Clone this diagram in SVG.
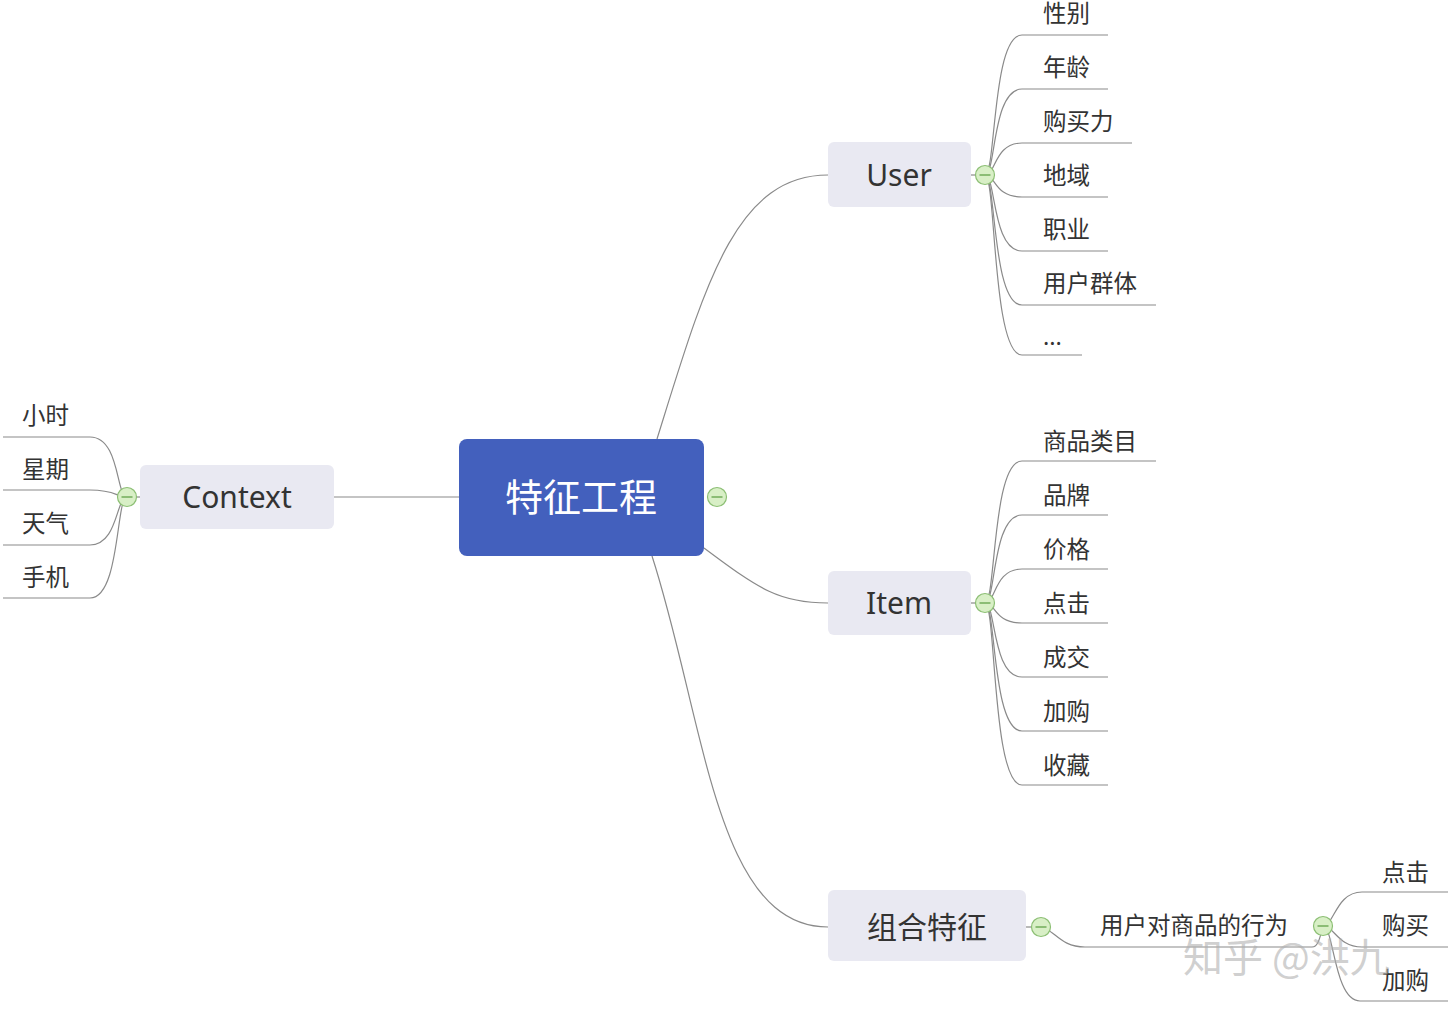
<svg xmlns="http://www.w3.org/2000/svg" width="1448" height="1016" viewBox="0 0 1448 1016">
<style>
.bg{fill:#ffffff}
.c{fill:none;stroke:#8a8a8a;stroke-width:1.2}
.node{fill:#e9e9f2}
.t{font-family:"Noto Sans","Noto Sans CJK SC",sans-serif;fill:#333333}
.big{font-size:30px}
.leaf{font-size:23.5px}
.col{fill:#d8efc6;stroke:#8cbf74;stroke-width:1.2}
.minus{stroke:#6aa852;stroke-width:1.4}
</style>
<defs>
<g id="collapse"><circle class="col" r="9.5" cx="0" cy="0"/><line class="minus" x1="-5.5" y1="0" x2="5.5" y2="0"/></g>
</defs>
<rect class="bg" x="0" y="0" width="1448" height="1016"/>
<g id="connectors">
<path class="c" d="M334,497 L459,497"/>
<path class="c" d="M657,439 C705,285 735,175 828,175"/>
<path class="c" d="M704,548 C760,590 780,603 828,603"/>
<path class="c" d="M652,556 C705,720 715,927 828,927"/>
<path class="c" d="M971,175 L976,175"/>
<path class="c" d="M971,603 L976,603"/>
<path class="c" d="M136,497 L140,497"/>
<path class="c" d="M1026,927 L1032,927"/>
<!-- User leaves -->
<path class="c" d="M985,175 C996,175 992,35 1022,35 L1108,35"/>
<path class="c" d="M985,175 C996,175 992,89 1022,89 L1108,89"/>
<path class="c" d="M985,175 C996,175 994,143 1022,143 L1132,143"/>
<path class="c" d="M985,175 C996,175 994,197 1022,197 L1108,197"/>
<path class="c" d="M985,175 C996,175 992,251 1022,251 L1108,251"/>
<path class="c" d="M985,175 C996,175 992,305 1022,305 L1156,305"/>
<path class="c" d="M985,175 C996,175 992,355 1022,355 L1082,355"/>
<!-- Item leaves -->
<path class="c" d="M985,603 C996,603 992,461 1022,461 L1156,461"/>
<path class="c" d="M985,603 C996,603 992,515 1022,515 L1108,515"/>
<path class="c" d="M985,603 C996,603 994,569 1022,569 L1108,569"/>
<path class="c" d="M985,603 C996,603 994,623 1022,623 L1108,623"/>
<path class="c" d="M985,603 C996,603 992,677 1022,677 L1108,677"/>
<path class="c" d="M985,603 C996,603 992,731 1022,731 L1108,731"/>
<path class="c" d="M985,603 C996,603 992,785 1022,785 L1108,785"/>
<!-- Context leaves -->
<path class="c" d="M127,497 C116,497 120,437 90,437 L3,437"/>
<path class="c" d="M127,497 C116,497 116,490 90,490 L3,490"/>
<path class="c" d="M127,497 C116,497 118,545 90,545 L3,545"/>
<path class="c" d="M127,497 C116,497 120,598 90,598 L3,598"/>
<!-- 组合特征 -->
<path class="c" d="M1041,927 C1055,930 1060,947 1085,947 L1312,947 C1318,947 1320,938 1323,926"/>
<path class="c" d="M1323,926 C1334,926 1336,892 1362,892 L1448,892"/>
<path class="c" d="M1323,926 C1334,926 1338,947 1362,947 L1448,947"/>
<path class="c" d="M1323,926 C1334,926 1334,1001 1360,1001 L1448,1001"/>
</g>
<g id="center">
<rect x="459" y="439" width="245" height="117" rx="8" fill="#4360bd"/>
<text x="581" y="511" text-anchor="middle" font-family="Noto Sans CJK SC,sans-serif" font-size="38" fill="#ffffff">特征工程</text>
<use href="#collapse" x="717" y="497"/>
</g>
<g id="user">
<rect class="node" x="828" y="142" width="143" height="65" rx="6"/>
<text class="t big" x="899" y="186" text-anchor="middle">User</text>
<use href="#collapse" x="985" y="175"/>
</g>
<g id="item">
<rect class="node" x="828" y="571" width="143" height="64" rx="6"/>
<text class="t big" x="899" y="614" text-anchor="middle">Item</text>
<use href="#collapse" x="985" y="603"/>
</g>
<g id="context">
<rect class="node" x="140" y="465" width="194" height="64" rx="6"/>
<text class="t big" x="237" y="508" text-anchor="middle">Context</text>
<use href="#collapse" x="127" y="497"/>
</g>
<g id="combo">
<rect class="node" x="828" y="890" width="198" height="71" rx="6"/>
<text class="t big" x="927" y="938" text-anchor="middle">组合特征</text>
<use href="#collapse" x="1041" y="927"/>
</g>
<g id="user-leaves">
<text class="t leaf" x="1043" y="22">性别</text>
<text class="t leaf" x="1043" y="76">年龄</text>
<text class="t leaf" x="1043" y="130">购买力</text>
<text class="t leaf" x="1043" y="184">地域</text>
<text class="t leaf" x="1043" y="238">职业</text>
<text class="t leaf" x="1043" y="292">用户群体</text>
<text class="t leaf" x="1043" y="345">...</text>
</g>
<g id="item-leaves">
<text class="t leaf" x="1043" y="450">商品类目</text>
<text class="t leaf" x="1043" y="504">品牌</text>
<text class="t leaf" x="1043" y="558">价格</text>
<text class="t leaf" x="1043" y="612">点击</text>
<text class="t leaf" x="1043" y="666">成交</text>
<text class="t leaf" x="1043" y="720">加购</text>
<text class="t leaf" x="1043" y="774">收藏</text>
</g>
<g id="context-leaves">
<text class="t leaf" x="22" y="424">小时</text>
<text class="t leaf" x="22" y="478">星期</text>
<text class="t leaf" x="22" y="532">天气</text>
<text class="t leaf" x="22" y="586">手机</text>
</g>
<g id="behavior">
<text class="t leaf" x="1100" y="934">用户对商品的行为</text>
<use href="#collapse" x="1323" y="926"/>
</g>
<g id="behavior-leaves">
<text class="t leaf" x="1382" y="881">点击</text>
<text class="t leaf" x="1382" y="934">购买</text>
<text class="t leaf" x="1382" y="989">加购</text>
</g>
<g id="watermark">
<text x="1183" y="972" font-family="Noto Sans CJK SC,sans-serif" font-size="40" fill="#b0b0b0" fill-opacity="0.6">知乎 @洪九</text>
</g>
</svg>
